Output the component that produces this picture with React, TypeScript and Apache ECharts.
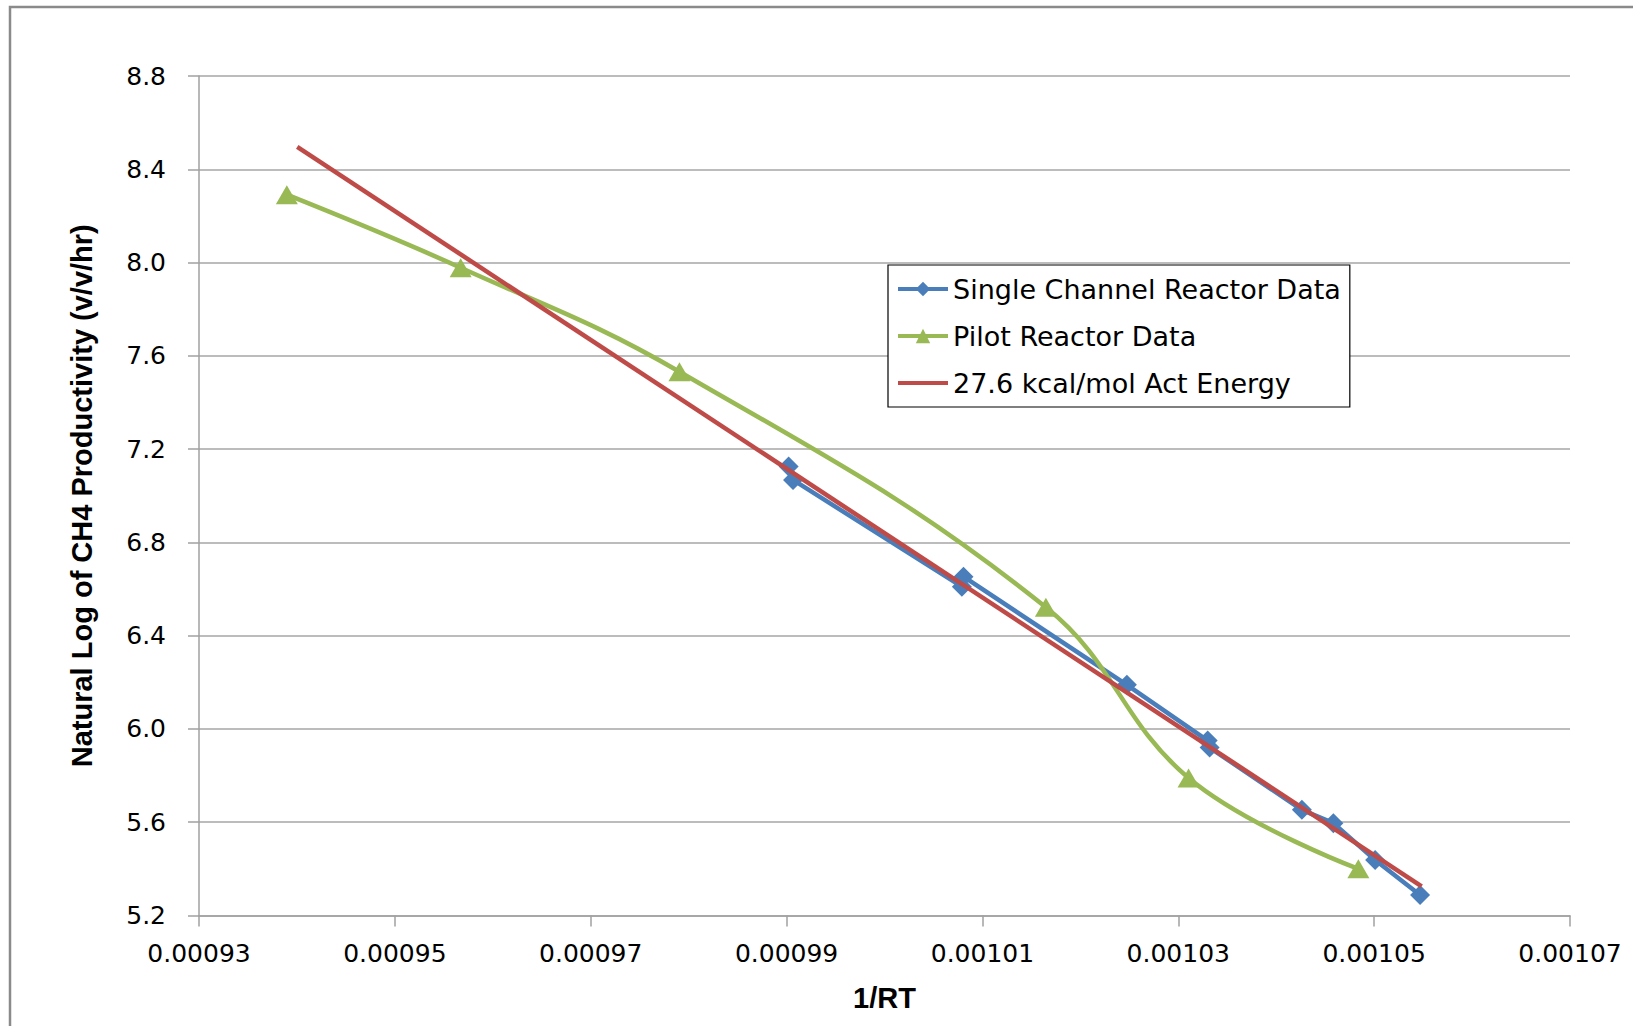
import React, { useEffect, useRef } from "react";
import * as echarts from "echarts";

const singleChannelX = [0.00099021, 0.00099066, 0.0010079, 0.00100807, 0.00102475, 0.001033, 0.0010332, 0.00104262, 0.00104584, 0.0010501, 0.00105469];
const singleChannelY = [7.125, 7.068, 6.61, 6.653, 6.189, 5.95, 5.92, 5.653, 5.596, 5.438, 5.288];

const pilotX = [0.00093897, 0.00095672, 0.00097906, 0.00101648, 0.00103105, 0.00104839];
const pilotY = [8.291, 7.978, 7.532, 6.522, 5.79, 5.4];

const actEnergyX = [0.00094003, 0.00105485];
const actEnergyY = [8.496, 5.325];

const seriesNames = ["Single Channel Reactor Data", "Pilot Reactor Data", "27.6 kcal/mol Act Energy"];
const xTitle = "1/RT";
const yTitle = "Natural Log of CH4 Productivity (v/v/hr)";

const zip = (xs: number[], ys: number[]) => xs.map((x, i) => [x, ys[i]]);

export default function App() {
  const ref = useRef<HTMLDivElement>(null);
  useEffect(() => {
    if (!ref.current) return;
    const chart = echarts.init(ref.current, undefined, { renderer: "svg" });
    const tickFont = "'DejaVu Sans', sans-serif";
    const titleFont = "'Liberation Sans', Arial, sans-serif";
    chart.setOption({
      animation: false,
      backgroundColor: "#ffffff",
      graphic: [
        {
          type: "rect",
          shape: { x: 10, y: 7, width: 1700, height: 1100 },
          style: { fill: "none", stroke: "#8a8a8a", lineWidth: 2.5 },
          silent: true,
        },
      ],
      grid: { left: 199, right: 63, top: 76, bottom: 110.5, containLabel: false },
      legend: {
        orient: "vertical",
        left: 888,
        top: 265,
        padding: [9, 9, 9, 8],
        itemGap: 17,
        itemWidth: 50,
        itemHeight: 18,
        backgroundColor: "#ffffff",
        borderColor: "#000000",
        borderWidth: 1.2,
        lineStyle: { width: 4 },
        textStyle: { fontFamily: tickFont, fontSize: 27, color: "#000", lineHeight: 30 },
        data: [
          { name: seriesNames[0] },
          { name: seriesNames[1] },
          { name: seriesNames[2], itemStyle: { opacity: 0 } },
        ],
      },
      xAxis: {
        type: "value",
        min: 0.00093,
        max: 0.00107,
        interval: 0.00002,
        name: xTitle,
        nameLocation: "middle",
        nameGap: 68,
        nameTextStyle: { fontFamily: titleFont, fontWeight: "bold", fontSize: 29, color: "#000" },
        axisLine: { show: true, lineStyle: { color: "#a0a0a0", width: 1.5 } },
        axisTick: { show: true, inside: false, length: 11, lineStyle: { color: "#a0a0a0", width: 1.5 } },
        axisLabel: {
          margin: 25,
          fontFamily: tickFont,
          fontSize: 25,
          color: "#000",
          formatter: (v: number) => v.toFixed(5),
        },
        splitLine: { show: false },
      },
      yAxis: {
        type: "value",
        min: 5.2,
        max: 8.8,
        interval: 0.4,
        name: yTitle,
        nameLocation: "middle",
        nameGap: 103,
        nameTextStyle: { fontFamily: titleFont, fontWeight: "bold", fontSize: 29, color: "#000" },
        axisLine: { show: true, lineStyle: { color: "#a0a0a0", width: 1.5 } },
        axisTick: { show: true, inside: false, length: 11, lineStyle: { color: "#a0a0a0", width: 1.5 } },
        axisLabel: {
          margin: 33,
          fontFamily: tickFont,
          fontSize: 25,
          color: "#000",
          formatter: (v: number) => v.toFixed(1),
        },
        splitLine: { show: true, lineStyle: { color: "#a6a6a6", width: 1.5 } },
      },
      series: [
        {
          name: seriesNames[0],
          type: "line",
          data: zip(singleChannelX, singleChannelY),
          symbol: "diamond",
          symbolSize: 20,
          showAllSymbol: true,
          itemStyle: { color: "#4a7ebb" },
          lineStyle: { color: "#4a7ebb", width: 4.5 },
          z: 2,
        },
        {
          name: seriesNames[1],
          type: "line",
          data: zip(pilotX, pilotY),
          smooth: 0.4,
          symbol: "triangle",
          symbolSize: [22, 19],
          itemStyle: { color: "#98b954" },
          lineStyle: { color: "#98b954", width: 4.5 },
          z: 3,
        },
        {
          name: seriesNames[2],
          type: "line",
          data: zip(actEnergyX, actEnergyY),
          symbol: "none",
          itemStyle: { color: "#be4b48" },
          lineStyle: { color: "#be4b48", width: 4.5 },
          z: 4,
        },
      ],
    });
    return () => chart.dispose();
  }, []);
  return (
    <div
      ref={ref}
      style={{ position: "fixed", left: 0, top: 0, width: 1633, height: 1026, background: "#fff" }}
    />
  );
}
